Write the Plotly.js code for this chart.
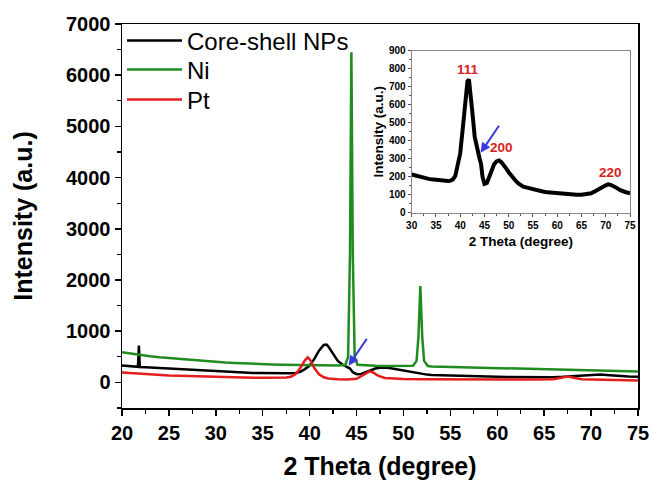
<!DOCTYPE html>
<html><head><meta charset="utf-8">
<script src="https://cdn.plot.ly/plotly-3.0.1.min.js"></script>
<style>html,body{margin:0;padding:0;background:#fff}</style>
</head><body><div id="chart" style="width:653px;height:480px"></div>
<script>
// Core-shell NPs (also shown in the inset)
const csX = [20,20.5,21,21.5,21.7,21.8,21.9,22.5,23,23.5,24,24.5,25,25.5,26,26.5,27,27.5,28,28.5,29,29.5,30,30.5,31,31.5,32,32.5,33,33.5,34,34.5,35,35.5,36,36.5,37,37.5,38,38.5,39,39.5,40,40.5,41,41.5,41.8,42,42.5,43,43.5,44,44.3,44.6,45,45.5,46,46.5,47,47.5,48,48.5,49,49.5,50,50.5,51,51.5,52,52.5,53,54,55,56,57,58,59,60,61,62,63,64,65,66,67,68,69,70,70.5,71,72,73,74,75];
const csY = [330,320,315,305,305,720,300,295,290,280,275,270,262,255,250,245,240,235,232,228,222,218,212,208,205,200,198,195,192,188,186,184,182,180,178,177,176,176,178,185,205,260,330,460,620,730,740,700,560,420,350,300,270,200,160,165,200,240,270,285,290,280,265,245,225,205,190,175,162,152,145,138,130,124,118,113,110,108,106,104,102,100,100,102,108,122,140,152,158,155,142,125,115,108];
// Ni
const niX = [20,20.5,21,21.5,22,23,24,25,26,27,28,29,30,31,32,33,34,35,36,37,38,39,40,41,42,43,43.8,44.1,44.3,44.45,44.6,44.8,45.1,46,47,48,49,50,51,51.4,51.6,51.8,52.0,52.2,52.6,53,54,55,56,57,58,59,60,61,62,63,64,65,66,67,68,69,70,71,72,73,74,75];
const niY = [590,575,560,545,530,510,490,475,455,440,425,410,400,390,380,370,362,355,350,345,340,335,332,330,328,328,340,500,2500,6450,2500,500,345,330,325,322,320,318,325,420,900,1880,900,420,320,310,305,300,295,290,285,280,278,272,268,262,258,252,248,244,240,236,232,228,225,222,218,215];
// Pt
const ptX = [20,21,22,23,24,25,26,27,28,29,30,31,32,33,34,35,36,37,37.5,38,38.5,39,39.5,39.8,40.1,40.5,41,41.5,42,43,44,45,45.5,46,46.4,46.8,47.3,48,49,50,52,54,56,58,60,62,64,66,67,67.5,68,69,70,72,74,75];
const ptY = [195,180,165,150,142,135,128,122,115,110,105,100,97,95,92,90,90,92,95,110,160,280,430,490,430,280,160,100,75,62,58,70,120,180,215,190,130,85,70,65,60,58,56,55,55,55,56,62,95,115,95,62,55,48,40,35];

const seriesNames = ['Core-shell NPs','Ni','Pt'];
const xTickVals = [20,25,30,35,40,45,50,55,60,65,70,75];
const yTickVals = [0,1000,2000,3000,4000,5000,6000,7000];
const insetXTicks = [30,35,40,45,50,55,60,65,70,75];
const insetYTicks = [0,100,200,300,400,500,600,700,800,900];
const peakLabels = ['111','200','220'];
const peakX = [41.7,48.6,70.9];
const peakY = [793,363,222];

const FONT = 'Liberation Sans, Arial, sans-serif';
const GREEN = '#1f8c1f', RED = '#e41e1e', BLUE = '#3a3ae0';

const traces = [
  {x: csX, y: csY, name: seriesNames[0], legend:'legend', type:'scatter', mode:'lines', line:{color:'#000', width:2.5}},
  {x: niX, y: niY, name: seriesNames[1], legend:'legend2', type:'scatter', mode:'lines', line:{color:GREEN, width:2.5}},
  {x: ptX, y: ptY, name: seriesNames[2], legend:'legend3', type:'scatter', mode:'lines', line:{color:RED, width:2.5}},
  {x: csX.filter(v=>v>=30), y: csY.filter((v,i)=>csX[i]>=30), xaxis:'x2', yaxis:'y2', type:'scatter', mode:'lines', line:{color:'#000', width:4}, showlegend:false}
];

const bold = (s,c) => ({family:FONT, size:s, color:c||'#000', weight:'bold'});
const leg = (yy) => ({x:0, xanchor:'left', y:yy, yanchor:'middle', bgcolor:'rgba(0,0,0,0)', itemwidth:55,
                      font:{family:FONT, size:24, color:'#000'}});

const layout = {
  width:653, height:480,
  margin:{l:122, r:15, t:24, b:72},
  paper_bgcolor:'#fff', plot_bgcolor:'#fff',
  showlegend:true,
  legend: leg(0.9557),
  legend2: leg(0.8802),
  legend3: leg(0.8021),
  xaxis:{range:[20,75], tickvals:xTickVals, ticks:'outside', ticklen:6, tickwidth:1.5, tickcolor:'#000',
         showline:true, linecolor:'#000', linewidth:1.5, mirror:true, showgrid:false, zeroline:false,
         tickfont:bold(20), minor:{dtick:2.5, ticks:'outside', ticklen:4, tickcolor:'#000', tickwidth:1.2, showgrid:false},
         title:{text:'2 Theta (degree)', font:bold(25), standoff:21}},
  yaxis:{range:[-500,7000], tickvals:yTickVals, ticks:'outside', ticklen:6, tickwidth:1.5, tickcolor:'#000',
         showline:true, linecolor:'#000', linewidth:1.5, mirror:true, showgrid:false, zeroline:false,
         tickfont:bold(20), minor:{dtick:500, tick0:0, ticks:'outside', ticklen:4, tickcolor:'#000', tickwidth:1.2, showgrid:false},
         title:{text:'Intensity (a.u.)', font:bold(25), standoff:26}},
  xaxis2:{domain:[0.5614,0.9845], anchor:'y2', range:[30,75], tickvals:insetXTicks, ticks:'outside', ticklen:3, tickwidth:1, tickcolor:'#555',
          showline:true, linecolor:'#888', linewidth:1, mirror:true, showgrid:false, zeroline:false,
          tickfont:bold(10), minor:{dtick:2.5, ticks:'outside', ticklen:2, tickcolor:'#555', showgrid:false},
          title:{text:'2 Theta (degree)', font:bold(13.5), standoff:6}},
  yaxis2:{domain:[0.5086,0.9305], anchor:'x2', range:[0,900], tickvals:insetYTicks, ticks:'outside', ticklen:3, tickwidth:1, tickcolor:'#555',
          showline:true, linecolor:'#888', linewidth:1, mirror:true, showgrid:false, zeroline:false,
          tickfont:bold(10), minor:{dtick:50, ticks:'outside', ticklen:2, tickcolor:'#555', showgrid:false},
          title:{text:'Intensity (a.u.)', font:bold(13.5), standoff:2}},
  annotations: [
    ...peakLabels.map((t,i)=>({xref:'x2', yref:'y2', x:peakX[i], y:peakY[i], text:t, showarrow:false, font:bold(13.5,'#d82020')})),
    {xref:'x', yref:'y', x:44.15, y:326, axref:'x', ayref:'y', ax:46.2, ay:880, text:'', showarrow:true, arrowhead:2, arrowsize:1, arrowwidth:2, arrowcolor:BLUE},
    {xref:'x2', yref:'y2', x:44.2, y:333, axref:'x2', ayref:'y2', ax:48.2, ay:491, text:'', showarrow:true, arrowhead:2, arrowsize:1, arrowwidth:2, arrowcolor:BLUE}
  ]
};

Plotly.newPlot('chart', traces, layout, {displayModeBar:false, staticPlot:true});
</script></body></html>
